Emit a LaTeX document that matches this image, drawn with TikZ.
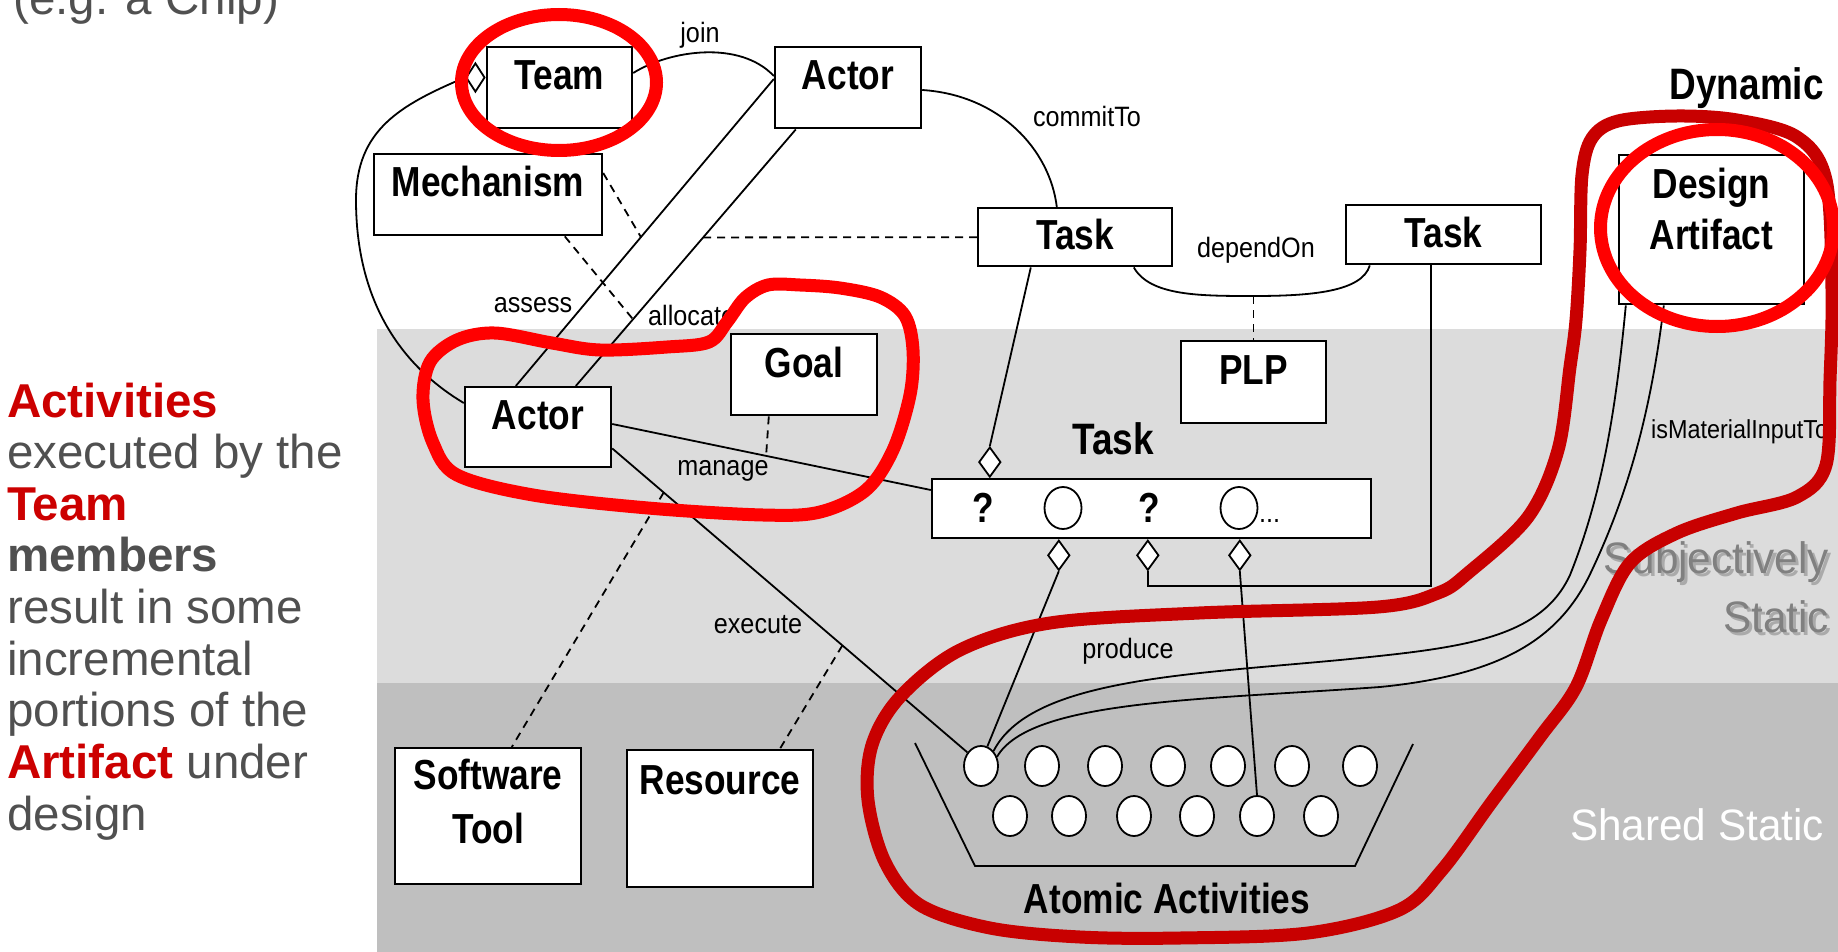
\documentclass[tikz,border=0pt]{standalone}
\usepackage{fontspec}
\setmainfont{Liberation Sans}
\newfontfamily\condfont[FakeStretch=0.84]{Liberation Sans}
\newfontfamily\labfont[FakeStretch=0.9]{Liberation Sans}
\newfontfamily\sidefont[FakeStretch=0.96]{Liberation Sans}
\usetikzlibrary{shapes.geometric,calc}
\definecolor{bandlight}{HTML}{DCDCDC}
\definecolor{banddark}{HTML}{BFBFBF}
\definecolor{txtgray}{HTML}{505050}
\definecolor{hired}{HTML}{CC0000}
\definecolor{penred}{HTML}{FF0000}
\definecolor{pendark}{HTML}{C80000}
\definecolor{ghost}{HTML}{808080}
\definecolor{ghostshade}{HTML}{AAAAAA}

\begin{document}
\begin{tikzpicture}[x=1pt,y=-1pt,
  box/.style={draw, fill=white, line width=2.4pt, inner sep=0pt, rectangle,
    font=\condfont\bfseries\fontsize{42}{51}\selectfont, anchor=north},
  link/.style={line width=1.8pt},
  dashlink/.style={line width=1.8pt, dash pattern=on 8pt off 6pt},
  agg/.style={draw, fill=white, diamond, inner sep=0pt, line width=1.8pt,
    minimum width=22pt, minimum height=30pt},
  act/.style={draw, fill=white, ellipse, inner sep=0pt, line width=1.8pt,
    minimum width=34pt, minimum height=40pt},
  lab/.style={font=\labfont\fontsize{28}{32}\selectfont, inner sep=0pt, anchor=base},
  big/.style={font=\condfont\bfseries\fontsize{44}{52}\selectfont, inner sep=0pt, anchor=base},
  side/.style={font=\sidefont\fontsize{44}{52}\selectfont, inner sep=0pt, anchor=base east},
  para/.style={font=\fontsize{47.5}{52}\selectfont, text=txtgray, inner sep=0pt, anchor=base west},
  parabold/.style={para, font=\bfseries\fontsize{47.5}{52}\selectfont},
  pen/.style={line width=13pt, line cap=round, line join=round},
]
\useasboundingbox (0,0) rectangle (1838,952);
\clip (0,0) rectangle (1838,952);
\fill[white] (0,0) rectangle (1838,952);

% layer bands
\fill[bandlight] (377,329) rectangle (1838,683);
\fill[banddark] (377,683) rectangle (1838,952);

% side text
\node[para] (p0) at (13,15) {(e.g. a Chip)};
\node[parabold, text=hired] (p1) at (7,417) {Activities};
\node[para] (p2) at (7,468.5) {executed by the};
\node[parabold, text=hired] (p3) at (7,520) {Team};
\node[parabold] (p4) at (7,571.5) {members};
\node[para] (p5) at (7,623) {result in some};
\node[para] (p6) at (7,675) {incremental};
\node[para] (p7) at (7,726.5) {portions of the};
\node[para] (p8) at (7,778) {\textcolor{hired}{\bfseries Artifact} under};
\node[para] (p9) at (7,830) {design};

% layer names
\node[big, anchor=base east] (ldyn) at (1824,100) {Dynamic};
\node[side, text=ghostshade] (lsub0) at (1832,576) {Subjectively};
\node[side, text=ghost] (lsub) at (1829,573) {Subjectively};
\node[side, text=ghostshade] (lsta0) at (1832,635) {Static};
\node[side, text=ghost] (lsta) at (1829,632) {Static};
\node[side, text=white] (lshared) at (1824,840) {Shared Static};

% classes
\node[box, minimum width=145pt, text height=42pt, text depth=39pt] (team) at (559.5,46) {Team};
\node[box, minimum width=146pt, text height=42pt, text depth=39pt] (actorT) at (848,46) {Actor};
\node[box, minimum width=228pt, text height=42pt, text depth=39pt] (mech) at (488,153) {Mechanism};
\node[box, minimum width=194pt, text height=41pt, text depth=17pt] (taskM) at (1075,207) {Task};
\node[box, minimum width=195pt, text height=42pt, text depth=17pt] (taskR) at (1443.5,204) {Task};
\node[box, minimum width=185pt, text height=43pt, text depth=106pt] (art) at (1711.5,154)
  {\begin{tabular}[t]{@{}c@{}}Design\\Artifact\end{tabular}};
\node[box, minimum width=146pt, text height=42pt, text depth=38pt] (actorB) at (538,386) {Actor};
\node[box, minimum width=146pt, text height=43pt, text depth=38pt] (goal) at (804,333) {Goal};
\node[box, minimum width=145pt, text height=43pt, text depth=39pt] (plp) at (1253.5,340) {PLP};
\node[box, minimum width=439pt, text height=30pt, text depth=29pt] (bar) at (1151.5,478) {};
\node[box, minimum width=186pt, text height=41pt, text depth=95pt] (sw) at (488,747)
  {\begin{tabular}[t]{@{}c@{}}Software\\[3pt]Tool\end{tabular}};
\node[box, minimum width=186pt, text height=44pt, text depth=93pt] (res) at (720,749) {Resource};

% aggregation diamonds
\node[agg, minimum width=19pt, minimum height=29pt, anchor=east] (agg0) at ($(team.north west)+(0,31.5)$) {};
\node[agg, anchor=south] (dtop) at ($(bar.north west)+(59,0)$) {};
\node[agg, anchor=north] (d1) at ($(bar.south west)+(128,0)$) {};
\node[agg, anchor=north] (d2) at ($(bar.south west)+(217,0)$) {};
\node[agg, anchor=north] (d3) at ($(bar.south west)+(309,0)$) {};

% task slots
\node[big, font=\condfont\bfseries\fontsize{42}{51}\selectfont] (q1) at (983,522) {?};
\node[act, minimum width=37pt, minimum height=42pt] (o1) at (1063,508) {};
\node[big, font=\condfont\bfseries\fontsize{42}{51}\selectfont] (q2) at (1149,522) {?};
\node[act, minimum width=37pt, minimum height=42pt] (o2) at (1239,508) {};
\node[lab, anchor=base west] (dots) at (1259,522) {...};
\node[big] (ltask) at (1113,454) {Task};

% atomic activities
\foreach \x [count=\i] in {981,1042,1105,1168,1228,1292,1360}
  \node[act] (a\i) at (\x,766) {};
\foreach \x [count=\i] in {1010,1069,1134,1197,1257,1321}
  \node[act] (b\i) at (\x,816) {};
\draw[link] (915,743) -- (975,866) -- (1355,866) -- (1413,744);
\node[big, font=\condfont\bfseries\fontsize{42}{51}\selectfont] (latomic) at (1167,913) {Atomic Activities};

% connectors
\draw[link] (agg0.west) .. controls (400,105) and (356,130) .. (356,200)
  .. controls (356,300) and (400,365) .. ($(actorB.north west)+(0,17)$);
\draw[link] ($(team.north east)+(0,27)$) .. controls (670,50) and (740,40) .. ($(actorT.north west)+(0,30)$);
\node[lab] (ljoin) at (700,43) {join};
\draw[link] ($(actorT.north east)+(0,44)$) .. controls (1000,95) and (1050,150) .. ($(taskM.north west)+(80,0)$);
\node[lab] (lcommit) at (1087,127) {commitTo};

\coordinate (asA) at ($(actorT.north west)+(0,33)$);
\coordinate (asB) at ($(actorB.north west)+(52,0)$);
\coordinate (alA) at ($(actorT.south west)+(22,0)$);
\coordinate (alB) at ($(actorB.north west)+(112,0)$);
\draw[link] (asA) -- (asB);
\draw[link] (alA) -- (alB);
\node[lab] (lassess) at (533,312) {assess};
\node[lab, anchor=base west] (lalloc) at (648,325) {allocate};
\draw[dashlink] ($(mech.north east)+(0,20)$) -- ($(asA)!0.515!(asB)$);
\draw[dashlink] ($(alA)!0.421!(alB)$) -- (taskM.west);
\draw[dashlink] ($(mech.south west)+(192,0)$) -- ($(alA)!0.74!(alB)$);

\coordinate (dep) at (1253.5,296);
\draw[link] ($(taskM.south west)+(157,0)$) .. controls (1150,296) and (1200,296) .. (dep)
  .. controls (1310,296) and (1362,292) .. ($(taskR.south west)+(25,0)$);
\node[lab] (ldep) at (1256,257) {dependOn};
\draw[dashlink] (dep) -- (plp.north);

\draw[link] ($(taskM.south west)+(54,0)$) -- (dtop.north);
\draw[link] ($(taskR.south west)+(86,0)$) |- ($(d2.south)+(0,15)$) -- (d2.south);

\coordinate (mgA) at ($(actorB.north east)+(0,38)$);
\coordinate (barW) at ($(bar.north west)+(0,12)$);
\draw[link] (mgA) -- (barW);
\draw[dashlink] ($(goal.south west)+(39,0)$) -- ($(mgA)!0.483!(barW)$);
\node[lab] (lmanage) at (723,475) {manage};

\coordinate (exA) at ($(actorB.south east)+(0,-20)$);
\draw[link] (exA) -- (a1.135);
\draw[dashlink] ($(exA)!0.145!(a1.135)$) -- ($(sw.north west)+(118,0)$);
\draw[dashlink] ($(exA)!0.648!(a1.135)$) -- ($(res.north west)+(154,0)$);
\node[lab] (lexec) at (758,633) {execute};

\draw[link] (d1.south) -- (a1.72);
\node[lab] (lprod) at (1128,658) {produce};
\draw[link] (d3.south) -- (b5.north);

\draw[link] ($(art.south west)+(8,0)$) .. controls (1615,420) and (1600,500) .. (1570,575)
  .. controls (1540,640) and (1460,648) .. (1340,660)
  .. controls (1180,675) and (1030,680) .. (a1.50);
\draw[link] ($(art.south west)+(46,0)$) .. controls (1650,420) and (1625,500) .. (1592,570)
  .. controls (1560,640) and (1500,675) .. (1380,687)
  .. controls (1200,700) and (1030,700) .. (a1.30);
\node[lab, anchor=base west, font=\labfont\fontsize{26}{30}\selectfont] (lmat) at (1651,438) {isMaterialInputTo};

% hand-drawn marker strokes
\draw[pen, draw=pendark] plot[smooth cycle, tension=0.55] coordinates {
  (1797,137) (1737,120) (1677,116) (1618,121) (1592,138) (1582,175) (1580,250)
  (1576,320) (1570,367) (1558,450) (1528,517) (1468,573) (1438,593) (1378,607)
  (1199,613) (1050,623) (960,650) (900,697) (872,745) (868,800) (885,862)
  (920,905) (990,928) (1080,937) (1180,938) (1308,933) (1399,910) (1442,870)
  (1491,803) (1540,737) (1576,687) (1601,620) (1630,563) (1677,533) (1737,513)
  (1797,497) (1826,465) (1830,380) (1832,290) (1826,180)};
\draw[pen, draw=penred] (559,82.5) ellipse [x radius=97.5pt, y radius=68pt];
\draw[pen, draw=penred] (1717,228) ellipse [x radius=116.5pt, y radius=98.5pt];
\draw[pen, draw=penred] plot[smooth cycle, tension=0.55] coordinates {
  (709,342) (727,322) (745,298) (768,285) (800,285) (840,288) (880,297)
  (905,316) (913,350) (910,395) (893,450) (866,490) (820,512) (763,515)
  (648,508) (533,495) (457,475) (433,443) (423,400) (430,362) (457,340)
  (495,333) (552,343) (600,350) (667,347)};
\end{tikzpicture}
\end{document}
